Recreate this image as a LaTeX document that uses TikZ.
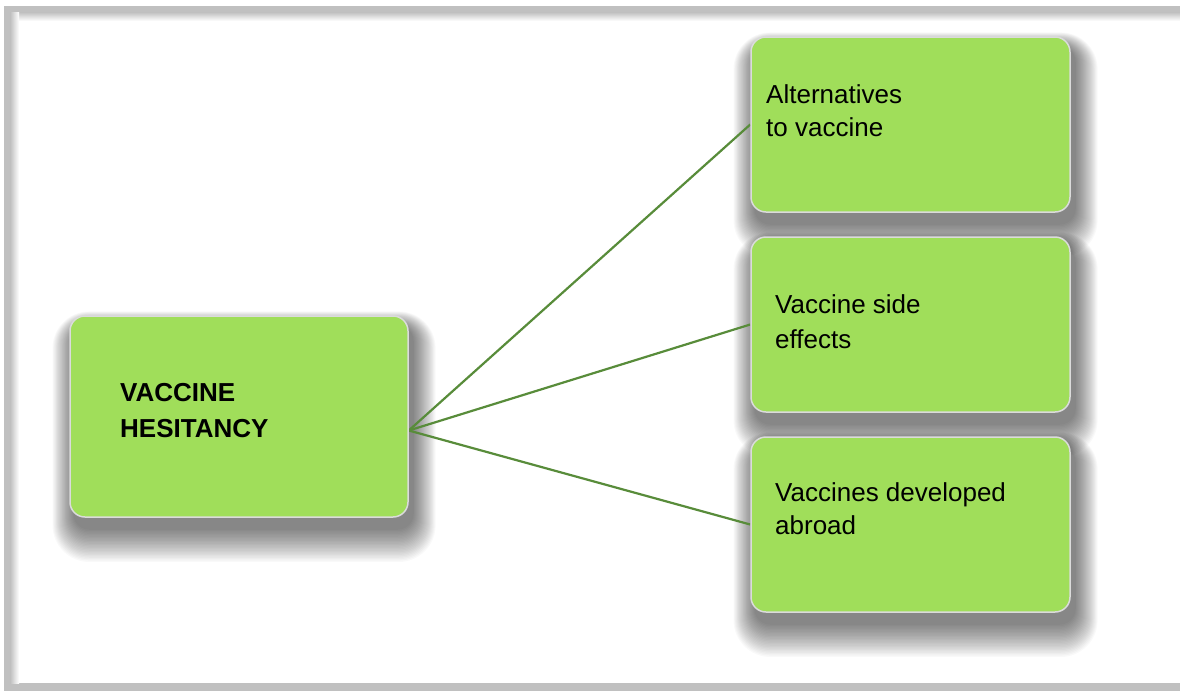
\documentclass[tikz,border=0pt]{standalone}
\usepackage{fontspec}
\setmainfont{Liberation Sans}
\usetikzlibrary{calc}

\definecolor{boxgreen}{RGB}{160,222,90}
\definecolor{boxlight}{RGB}{200,242,145}
\definecolor{boxdark}{RGB}{95,148,42}
\definecolor{linkgreen}{RGB}{88,140,58}
\definecolor{framegray}{RGB}{192,192,192}

% flat green face with a light top edge and a darker bottom edge
\pgfdeclareverticalshading{bevel}{100bp}{color(0bp)=(boxdark); color(2.5bp)=(boxdark!65!boxgreen); color(6bp)=(boxgreen!85!black!40!boxgreen); color(8bp)=(boxgreen); color(93bp)=(boxgreen); color(97bp)=(boxlight); color(100bp)=(boxlight)}

\pgfdeclarelayer{back}
\pgfdeclarelayer{shadow}
\pgfsetlayers{back,shadow,main}

\tikzset{
  greenbox/.style={rectangle, rounded corners=15pt, shade, shading=bevel,
    draw=white!86!black, line width=1.5pt, inner sep=0pt},
  boxtext/.style={anchor=north west, inner sep=0pt, align=left, text=black},
  link/.style={draw=linkgreen, line width=2.2pt},
}

% blurred drop shadow built from stacked translucent rounded rectangles
\newcommand{\softshadow}[1]{%
  \foreach \i in {0,...,23}{%
    \fill[black, opacity=0.022, rounded corners=16pt+0.9pt*\i]
      ($(#1.north west)+(4-0.9*\i,10-0.6*\i)$) rectangle
      ($(#1.south east)+(5+0.95*\i,12+1.4*\i)$);
  }%
}

\begin{document}
\begin{tikzpicture}[x=1pt, y=-1pt]
  \useasboundingbox (0,0) rectangle (1180,691);

  \begin{pgfonlayer}{back}
    \fill[white] (0,0) rectangle (1180,691);
    % outer frame with a soft inner shadow
    \fill[framegray] (4,6) rectangle (1180,691);
    \fill[white] (10,12) rectangle (1180,683);
    \shade[top color=black!25, bottom color=white] (10,12) rectangle (1180,21);
    \shade[left color=black!25, right color=white] (10,12) rectangle (19,683);
  \end{pgfonlayer}

  % boxes
  \path
    (239,416.5) node[greenbox, minimum width=338pt, minimum height=201pt] (main) {}
    (910.5,124.5) node[greenbox, minimum width=319pt, minimum height=175pt] (b1) {}
    (910.5,324.5) node[greenbox, minimum width=319pt, minimum height=175pt] (b2) {}
    (910.5,524.5) node[greenbox, minimum width=319pt, minimum height=175pt] (b3) {};

  \begin{pgfonlayer}{shadow}
    \softshadow{main}
    \softshadow{b1}
    \softshadow{b2}
    \softshadow{b3}
    % connectors from one point on the main box
    \coordinate (hub) at ($(main.east)+(0,14)$);
    \draw[link] (hub) -- (b1.west);
    \draw[link] (hub) -- (b2.west);
    \draw[link] (hub) -- (b3.west);
  \end{pgfonlayer}

  % labels
  \node[boxtext, font=\fontsize{26}{36}\selectfont\bfseries] (tmain) at (120,383) {VACCINE\\HESITANCY};
  \node[boxtext, font=\fontsize{26}{33}\selectfont] (t1) at (766,84) {Alternatives\\to vaccine};
  \node[boxtext, font=\fontsize{26}{35}\selectfont] (t2) at (775,294) {Vaccine side\\effects};
  \node[boxtext, font=\fontsize{26}{33}\selectfont] (t3) at (775,482) {Vaccines developed\\abroad};
\end{tikzpicture}
\end{document}
